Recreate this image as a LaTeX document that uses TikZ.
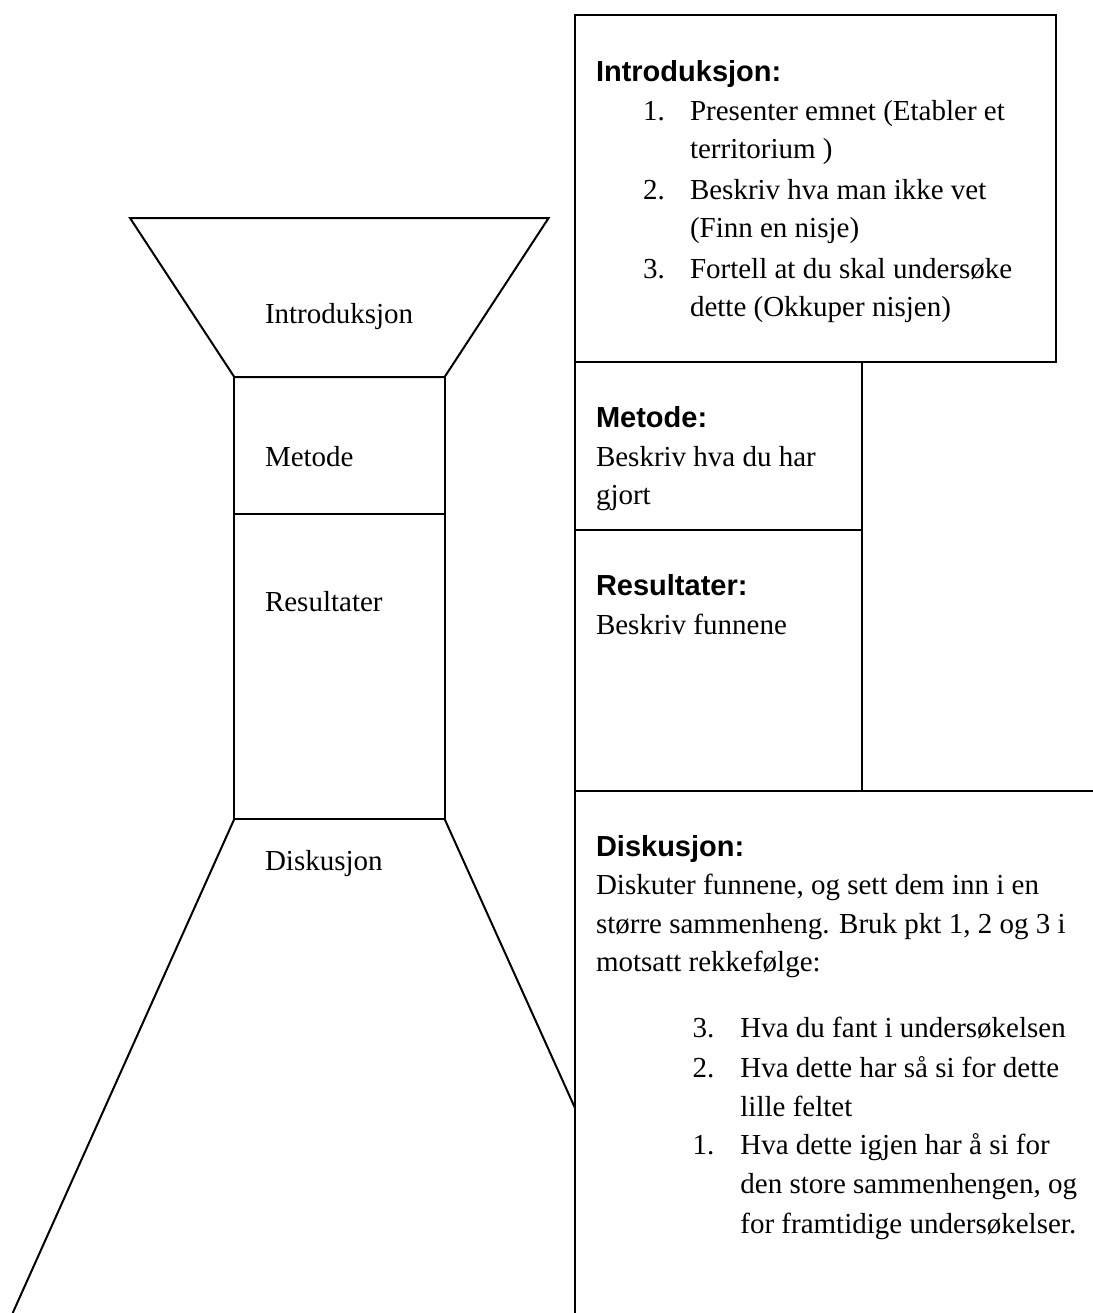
\documentclass[tikz,border=0pt]{standalone}
\usepackage{fontspec}
\setmainfont{Liberation Serif}
\newfontfamily\headfont{Liberation Sans}
\usetikzlibrary{calc}

\begin{document}
\begin{tikzpicture}[x=0.5pt,y=-0.5pt,line width=1pt,
  every node/.style={inner sep=0pt,anchor=base west,font=\fontsize{14.5}{19.5}\selectfont},
  head/.style={font=\headfont\bfseries\fontsize{14.5}{19.5}\selectfont}]
  \useasboundingbox (0,0) rectangle (1093,1313);
  % funnel on the left
  \path (130,218) coordinate (tl) (548.6,218) coordinate (tr)
  (234.3,377) coordinate (nl) (444.6,377) coordinate (nr)
  (234.3,514) coordinate (ml) (444.6,514) coordinate (mr)
  (234.3,819) coordinate (bl) (444.6,819) coordinate (br)
  (12.7,1313) coordinate (fl) (575,1108) coordinate (fr);
  \draw (tl) -- (tr) -- (nr) -- (nl) -- cycle;
  \draw (nl) -- (bl) -- (br) -- (nr);
  \draw (ml) -- (mr);
  \draw (bl) -- (fl);
  \draw (br) -- (fr);
  \path (264,323) node (lintro) {Introduksjon} (264,466) node (lmet) {Metode}
  (264,611.5) node (lres) {Resultater} (264,870) node (ldisk) {Diskusjon};
  % boxes on the right
  \path (575,15) coordinate (ia) (1056,362) coordinate (ib)
  (575,362) coordinate (ma) (861.7,530) coordinate (mb)
  (575,530) coordinate (ra) (861.7,791) coordinate (rb)
  (575,791) coordinate (da) (1093,791) coordinate (db) (575,1313) coordinate (dc);
  \draw (ia) rectangle (ib);
  \draw (ma) rectangle (mb);
  \draw (ra) rectangle (rb);
  \draw (db) -- (da) -- (dc);
  % Introduksjon
  \node[head] (hintro) at (595,81) {Introduksjon:};
  \path (642,120) node {1.} (642,199) node {2.} (642,278) node {3.}
  (689,120) node (i1) {Presenter emnet (Etabler et} (689,158) node {territorium )}
  (689,199) node (i2) {Beskriv hva man ikke vet} (689,237) node {(Finn en nisje)}
  (689,278) node (i3) {Fortell at du skal undersøke} (689,316) node {dette (Okkuper nisjen)};
  % Metode and Resultater
  \node[head] (hmet) at (595,427) {Metode:};
  \path (595,466) node (met1) {Beskriv hva du har} (595,504) node (met2) {gjort};
  \node[head] (hres) at (595,595) {Resultater:};
  \node (res1) at (595,634) {Beskriv funnene};
  % Diskusjon
  \node[head] (hdisk) at (595,856) {Diskusjon:};
  \path (595,894) node (d1) {Diskuter funnene, og sett dem inn i en}
  (595,933) node (d2) {større sammenheng. Bruk pkt 1, 2 og 3 i}
  (595,971) node (d3) {motsatt rekkefølge:};
  \path (691.6,1037) node {3.} (691.6,1077) node {2.} (691.6,1154) node {1.}
  (739.4,1037) node (k3) {Hva du fant i undersøkelsen}
  (739.4,1077) node (k2) {Hva dette har så si for dette} (739.4,1116) node {lille feltet}
  (739.4,1154) node (k1) {Hva dette igjen har å si for}
  (739.4,1193) node {den store sammenhengen, og} (739.4,1233) node {for framtidige undersøkelser.};
\end{tikzpicture}
\end{document}
